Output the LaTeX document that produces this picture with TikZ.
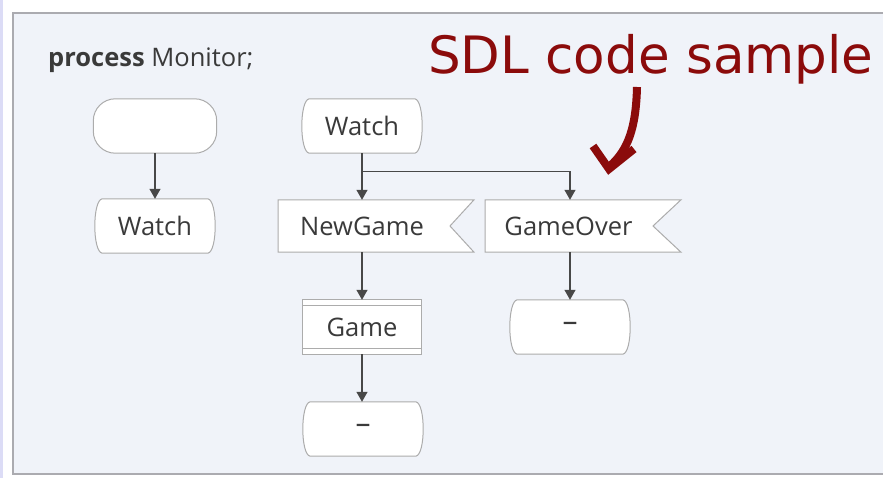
\documentclass[tikz,border=0pt]{standalone}
\usepackage{fontspec}
\setmainfont{Open Sans}
\newfontfamily\titlefont{DejaVu Sans}
\usetikzlibrary{arrows.meta,calc}
\pgfdeclarelayer{bgzero}
\pgfdeclarelayer{bgone}
\pgfsetlayers{bgzero,bgone,main}
\definecolor{panel}{HTML}{F0F3F9}
\definecolor{framec}{HTML}{ABABB0}
\definecolor{lav}{HTML}{DCDCF6}
\definecolor{edgec}{HTML}{ACACAC}
\definecolor{connc}{HTML}{484848}
\definecolor{sdlred}{HTML}{8B0B0B}
\definecolor{txt}{HTML}{3A3A3A}
\newcommand\stateshape[1]{%
  \draw[outline] ([xshift=9pt]#1.north west) -- ([xshift=-9pt]#1.north east)
    .. controls ([xshift=1pt,yshift=-1pt]#1.north east) and ([xshift=1pt,yshift=1pt]#1.south east) .. ([xshift=-9pt]#1.south east)
    -- ([xshift=9pt]#1.south west)
    .. controls ([xshift=-1pt,yshift=1pt]#1.south west) and ([xshift=-1pt,yshift=-1pt]#1.north west) .. cycle;}
\begin{document}
\begin{tikzpicture}[x=1pt,y=-1pt,
  lbl/.style={font=\fontsize{25.5}{30}\selectfont, text=txt, inner sep=0pt},
  statebox/.style={lbl, minimum width=123pt, minimum height=54pt},
  sigbox/.style={lbl, minimum height=52pt},
  dashtxt/.style={font=\fontsize{30}{34}\selectfont},
  conn/.style={draw=connc, line width=1.2pt},
  arr/.style={conn, -{Triangle[length=10pt,width=11pt]}},
  outline/.style={draw=edgec, line width=1pt, fill=white},
  ]
\useasboundingbox (0,0) rectangle (883,478);
\begin{pgfonlayer}{bgzero}
  \fill[white] (0,0) rectangle (883,478);
  \fill[lav] (0,0) rectangle (3,478);
  \draw[framec, line width=1.8pt, fill=panel] (13,13) rectangle (900,474);
\end{pgfonlayer}

\node[lbl, anchor=base west, font=\fontsize{25.5}{30}\selectfont] (proc) at (48,67) {\textbf{process} Monitor;};
\node[anchor=base west, inner sep=0pt, text=sdlred, font=\titlefont\fontsize{51.5}{60}\selectfont] (title) at (428,74) {SDL code sample};

\node[statebox] (start) at (155,126) {};
\node[statebox] (w1) at (155,226) {Watch};
\node[statebox] (w2) at (362,126) {Watch};
\node[sigbox, minimum width=168pt] (ng) at (362,226) {NewGame};
\node[sigbox, minimum width=170pt] (go) at (570,226) {\hspace*{-3pt}GameOver};
\node[lbl, minimum width=118pt, minimum height=54pt] (game) at (362,327) {Game};
\node[statebox, dashtxt] (end1) at (363,429) {–};
\node[statebox, dashtxt] (end2) at (570,327) {–};

\begin{pgfonlayer}{bgone}
  \draw[outline, rounded corners=22pt] (start.north west) rectangle (start.south east);
  \stateshape{w1}
  \stateshape{w2}
  \stateshape{end1}
  \stateshape{end2}
  \draw[outline] ([xshift=-84pt]ng.north) -- ([xshift=112pt]ng.north) -- ([xshift=88pt]ng.center) -- ([xshift=112pt]ng.south) -- ([xshift=-84pt]ng.south) -- cycle;
  \draw[outline] ([xshift=-85pt]go.north) -- ([xshift=111pt]go.north) -- ([xshift=83pt]go.center) -- ([xshift=111pt]go.south) -- ([xshift=-85pt]go.south) -- cycle;
  \draw[outline] (game.north west) rectangle (game.south east);
  \draw[draw=edgec, line width=1pt] ([yshift=-6pt]game.north west) -- ([yshift=-6pt]game.north east);
  \draw[draw=edgec, line width=1pt] ([yshift=6pt]game.south west) -- ([yshift=6pt]game.south east);
\end{pgfonlayer}

\draw[arr] (start.south) -- (w1.north);
\draw[arr] (w2.south) -- (ng.north);
\draw[arr] (w2.south) -- ++(0,18) -| (go.north);
\draw[arr] (ng.south) -- (game.north);
\draw[arr] (game.south) -- (game.south |- end1.north);
\draw[arr] (go.south) -- (end2.north);

\draw[sdlred, line width=8pt] (637,87) .. controls (636,128) and (628,150) .. (610,166);
\draw[sdlred, line width=8pt, line join=miter] (593,146) -- (609,169) -- (634,149);
\end{tikzpicture}
\end{document}
